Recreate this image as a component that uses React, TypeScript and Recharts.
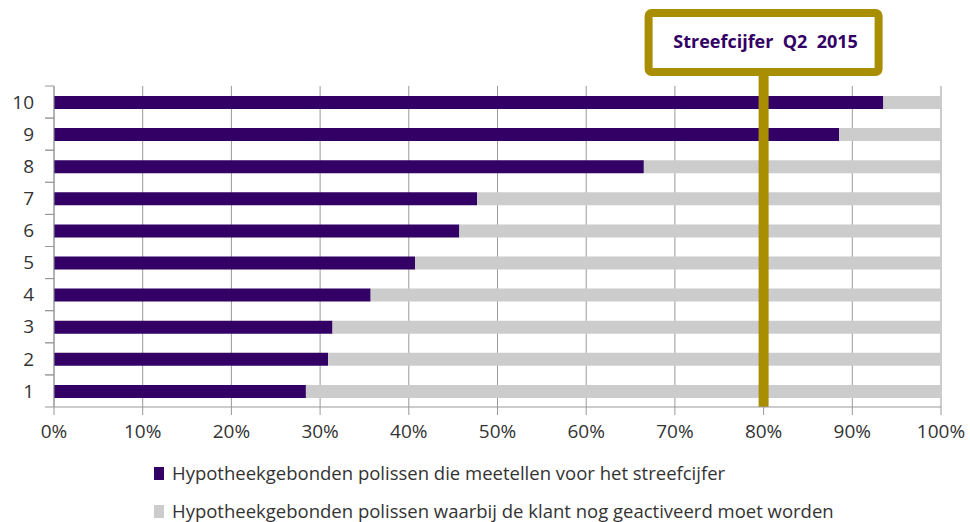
import React from 'react';
import { Bar, BarChart, CartesianGrid, ReferenceLine, XAxis, YAxis } from 'recharts';

const categories = ['10', '9', '8', '7', '6', '5', '4', '3', '2', '1'];
const countedValues = [93.5, 88.5, 66.5, 47.7, 45.7, 40.7, 35.7, 31.4, 30.9, 28.4];
const pendingValues = [6.5, 11.5, 33.5, 52.3, 54.3, 59.3, 64.3, 68.6, 69.1, 71.6];
const xTicks = [0, 10, 20, 30, 40, 50, 60, 70, 80, 90, 100];
const targetValue = 80;
const targetLabel = 'Streefcijfer  Q2  2015';
const seriesNames = [
  'Hypotheekgebonden polissen die meetellen voor het streefcijfer',
  'Hypotheekgebonden polissen waarbij de klant nog geactiveerd moet worden',
];

const PURPLE = '#330066';
const LIGHT = '#CCCCCC';
const GOLD = '#A88E00';
const AXIS = '#999999';
const TEXT = '#333333';
const FONT = '"Open Sans", sans-serif';

const data = categories.map((name, i) => ({
  name,
  counted: countedValues[i],
  pending: pendingValues[i],
}));

// category label plus tick marks on the band edges (Excel style)
const YTick = (props: any) => {
  const { x, y, payload } = props;
  const half = payload?.offset || 16;
  const axisX = x + 20;
  return (
    <g>
      <line x1={axisX - 9} x2={axisX} y1={y - half} y2={y - half} stroke={AXIS} />
      <line x1={axisX - 9} x2={axisX} y1={y + half} y2={y + half} stroke={AXIS} />
      <text x={x} y={y} dy="0.35em" textAnchor="end" fill={TEXT} fontSize={19} fontFamily={FONT}>
        {payload.value}
      </text>
    </g>
  );
};

const TargetBox = (props: any) => {
  const vb = props.viewBox || {};
  const cx = vb.x;
  const top = vb.y;
  return (
    <g>
      <line x1={cx} x2={cx} y1={top - 14} y2={top} stroke={GOLD} strokeWidth={10} />
      <rect x={cx - 115} y={13} width={230} height={59} rx={3} fill="#fff" stroke={GOLD} strokeWidth={8} />
      <text
        x={cx + 2}
        y={42}
        dy="0.35em"
        textAnchor="middle"
        fill={PURPLE}
        fontWeight="bold"
        fontSize={18}
        fontFamily={FONT}
        style={{ whiteSpace: 'pre' }}
      >
        {targetLabel}
      </text>
    </g>
  );
};

const App = () => {
  return (
    <div style={{ position: 'absolute', left: 0, top: 0, width: 970, height: 522, background: '#fff', overflow: 'hidden' }}>
      <BarChart
        width={970}
        height={522}
        data={data}
        layout="vertical"
        barSize={13}
        margin={{ top: 86, right: 29, left: 14, bottom: 85 }}
      >
        <CartesianGrid horizontal={false} stroke={AXIS} />
        <XAxis
          type="number"
          domain={[0, 100]}
          ticks={xTicks}
          tickFormatter={v => `${v}%`}
          height={30}
          tickSize={8}
          tickMargin={10}
          stroke={AXIS}
          tick={{ fill: TEXT, fontSize: 19, fontFamily: FONT }}
          interval={0}
        />
        <YAxis
          type="category"
          dataKey="name"
          width={40}
          stroke={AXIS}
          tickLine={false}
          tickSize={9}
          tickMargin={11}
          tick={<YTick />}
          interval={0}
        />
        <Bar dataKey="counted" stackId="a" fill={PURPLE} isAnimationActive={false} />
        <Bar dataKey="pending" stackId="a" fill={LIGHT} isAnimationActive={false} />
        <ReferenceLine x={targetValue} stroke={GOLD} strokeWidth={10} label={<TargetBox />} />
      </BarChart>
      <div style={{ position: 'absolute', left: 154, top: 456, fontFamily: FONT, fontSize: 18.5, lineHeight: 1, color: TEXT }}>
        {seriesNames.map((name, i) => (
          <div key={name} style={{ display: 'flex', alignItems: 'center', height: 34, marginBottom: i === 0 ? 4 : 0 }}>
            <span
              style={{
                display: 'inline-block',
                width: 10,
                height: 13,
                background: i === 0 ? PURPLE : LIGHT,
                marginRight: 8,
              }}
            />
            <span>{name}</span>
          </div>
        ))}
      </div>
    </div>
  );
};

export default App;
